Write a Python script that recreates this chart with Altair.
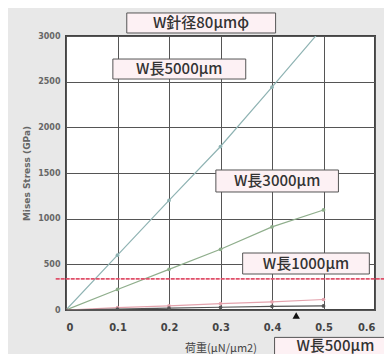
import altair as alt
import pandas as pd

# --- data ---
load = [0, 0.1, 0.2, 0.3, 0.4, 0.5]
s5000 = [0, 600, 1200, 1790, 2440, 3100]
s3000 = [0, 225, 445, 665, 910, 1095]
s1000 = [0, 25, 45, 70, 90, 115]
s500 = [0, 10, 20, 30, 40, 45]
series_names = ["W長5000μm", "W長3000μm", "W長1000μm", "W長500μm"]
series_colors = ["#8fb3b3", "#8fae8c", "#e3a3ad", "#555555"]
point_colors = ["#7a9a9a", "#6f8f6d", "#d8c88a", "#333333"]

limit_stress = 340
marker_load = 0.447

# annotation boxes (data coordinates)
ann_text = ["W針径80μmφ", "W長5000μm", "W長3000μm", "W長1000μm", "W長500μm"]
ann_cx = [0.262, 0.22, 0.41, 0.466, 0.523]
ann_cy = [3142, 2639, 1412, 509, -392]
ann_x1 = [0.118, 0.091, 0.291, 0.343, 0.405]
ann_x2 = [0.407, 0.349, 0.529, 0.589, 0.66]
ann_y1 = [3252, 2748, 1533, 624, -300]
ann_y2 = [3033, 2529, 1292, 394, -620]

rows = []
for name, vals in zip(series_names, [s5000, s3000, s1000, s500]):
    for x, y in zip(load, vals):
        rows.append({"load": x, "stress": y, "series": name})
df = pd.DataFrame(rows)

ann = pd.DataFrame({"text": ann_text, "cx": ann_cx, "cy": ann_cy,
                    "x1": ann_x1, "x2": ann_x2, "y1": ann_y1, "y2": ann_y2})

xscale = alt.Scale(domain=[0, 0.6], nice=False, zero=False)
yscale = alt.Scale(domain=[0, 3000], nice=False)

xgrid = [round(i * 0.05, 2) for i in range(13)]
ygrid = [i * 250 for i in range(13)]

xaxis = alt.Axis(values=xgrid, grid=True, gridColor="#555", gridWidth=1,
                 labelExpr="round(datum.value*20) % 2 == 0 ? (datum.value == 0 ? '0' : format(datum.value, '.1f')) : ''",
                 ticks=False, domain=False, labelPadding=11, labelFontSize=11,
                 labelFontWeight="bold", labelColor="#444", labelFont="DejaVu Sans Condensed",
                 title="荷重(μN/μm2)", titleFontSize=11, titleFont="Noto Sans CJK JP",
                 titleFontWeight="normal", titleColor="#444", titlePadding=10)
yaxis = alt.Axis(values=ygrid, grid=True, gridColor="#555", gridWidth=1,
                 labelExpr="datum.value % 500 == 0 ? datum.value : ''",
                 ticks=False, domain=False, labelPadding=6, labelFontSize=8,
                 labelFontWeight="bold", labelColor="#666", labelFont="DejaVu Sans",
                 title="Mises Stress (GPa)", titleFontSize=9, titleFont="DejaVu Sans",
                 titleFontWeight="bold", titleColor="#666", titlePadding=6)

color = alt.Color("series:N", scale=alt.Scale(domain=series_names, range=series_colors), legend=None)
pcolor = alt.Color("series:N", scale=alt.Scale(domain=series_names, range=point_colors), legend=None)

lines = alt.Chart(df).mark_line(strokeWidth=1.2, clip=True).encode(
    x=alt.X("load:Q", scale=xscale, axis=xaxis),
    y=alt.Y("stress:Q", scale=yscale, axis=yaxis),
    color=color, detail="series:N")

points = alt.Chart(df).mark_point(filled=True, size=14, opacity=1, clip=True).encode(
    x=alt.X("load:Q", scale=xscale),
    y=alt.Y("stress:Q", scale=yscale),
    color=pcolor)

limit_df = pd.DataFrame({"y": [limit_stress], "x1": [-0.02], "x2": [0.64]})
limit = alt.Chart(limit_df).mark_rule(color="#e0506a", strokeWidth=1.8, strokeDash=[4, 1]).encode(
    x=alt.X("x1:Q", scale=xscale), x2="x2:Q", y=alt.Y("y:Q", scale=yscale))

marker_df = pd.DataFrame({"x": [marker_load], "y": [-60]})
marker = alt.Chart(marker_df).mark_point(shape="triangle-up", filled=True, color="#111", size=55, opacity=1).encode(
    x=alt.X("x:Q", scale=xscale), y=alt.Y("y:Q", scale=yscale))

boxes = alt.Chart(ann).mark_rect(fill="#fdf1f4", stroke="#555", strokeWidth=1).encode(
    x=alt.X("x1:Q", scale=xscale), x2="x2:Q",
    y=alt.Y("y1:Q", scale=yscale), y2="y2:Q")

texts = alt.Chart(ann).mark_text(font="Noto Sans CJK JP", fontSize=15, fontWeight=500, color="#333",
                                  baseline="middle", align="center").encode(
    x=alt.X("cx:Q", scale=xscale), y=alt.Y("cy:Q", scale=yscale), text="text:N")

chart = alt.layer(lines, points, limit, marker, boxes, texts).properties(
    width=309, height=274,
    autosize=alt.AutoSizeParams(type="none"),
    padding={"left": 58, "top": 28, "right": 9, "bottom": 44},
    background="#e8e8e8",
).configure_view(fill="white", stroke="#444", strokeWidth=2)

chart.save("out.html", embed_options={"renderer": "svg", "actions": False})
